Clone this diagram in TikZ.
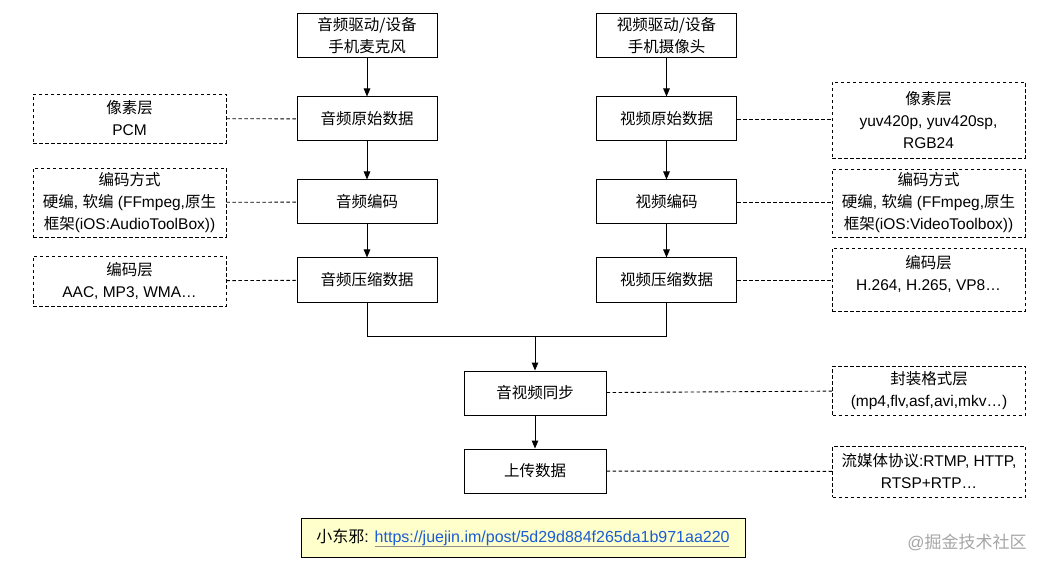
\documentclass[tikz,border=0pt]{standalone}
\usepackage{fontspec}
\setmainfont{Liberation Sans}
\newfontfamily\cjk{Noto Sans CJK SC}
\usetikzlibrary{arrows.meta}
\newcommand\zh[1]{{\cjk #1}}
\newcommand\fsz{\fontsize{15.5}{22}\selectfont}
\definecolor{notefill}{RGB}{255,255,204}
\definecolor{linkblue}{RGB}{26,92,212}
\tikzset{
  solidbox/.style={draw=black, line width=1pt, minimum width=140pt, minimum height=44pt, align=center, font=\fsz, inner sep=0pt},
  dbox/.style={draw=black, line width=0.9pt, dash pattern=on 3.5pt off 2.5pt, minimum width=193pt, align=center, font=\fsz, inner sep=0pt},
  arr/.style={draw=black, line width=1pt, -{Triangle[length=8pt,width=6.5pt]}},
  plain/.style={draw=black, line width=1pt},
  dline/.style={draw=black, line width=0.9pt, dash pattern=on 3.5pt off 2.5pt},
}
\begin{document}
\begin{tikzpicture}[x=1pt,y=-1pt]
\useasboundingbox (0,0) rectangle (1049,569);
% audio column
\node[solidbox] (a1) at (367,36) {\zh{音频驱动/设备}\\\zh{手机麦克风}};
\node[solidbox] (a2) at (367,119) {\zh{音频原始数据}};
\node[solidbox] (a3) at (367,202) {\zh{音频编码}};
\node[solidbox] (a4) at (367,280) {\zh{音频压缩数据}};
% video column
\node[solidbox] (v1) at (666.5,36) {\zh{视频驱动/设备}\\\zh{手机摄像头}};
\node[solidbox] (v2) at (666.5,119) {\zh{视频原始数据}};
\node[solidbox] (v3) at (666.5,202) {\zh{视频编码}};
\node[solidbox] (v4) at (666.5,280) {\zh{视频压缩数据}};
% merged
\node[solidbox, minimum width=142pt] (sync) at (535,393) {\zh{音视频同步}};
\node[solidbox, minimum width=142pt] (up) at (535,471) {\zh{上传数据}};
% left notes
\node[dbox, minimum height=49pt] (l1) at (129.5,118.5) {\zh{像素层}\\PCM};
\node[dbox, minimum height=69pt] (l2) at (129.5,202.5) {\zh{编码方式}\\\zh{硬编}, \zh{软编} (FFmpeg,\zh{原生}\\\zh{框架}(iOS:AudioToolBox))};
\node[dbox, minimum height=50pt] (l3) at (129.5,281) {\zh{编码层}\\AAC, MP3, WMA…};
% right notes
\node[dbox, minimum height=76pt] (r1) at (928.5,120) {\zh{像素层}\\yuv420p, yuv420sp,\\RGB24};
\node[dbox, minimum height=68pt] (r2) at (928.5,203) {\zh{编码方式}\\\zh{硬编}, \zh{软编} (FFmpeg,\zh{原生}\\\zh{框架}(iOS:VideoToolbox))};
\node[dbox, minimum height=63pt] (r3) at (928.5,279.5) {};
\node[align=center, font=\fsz, inner sep=0pt] (r3t) at (928.5,274) {\zh{编码层}\\H.264, H.265, VP8…};
\node[dbox, minimum height=49pt] (r4) at (929,390.5) {\zh{封装格式层}\\(mp4,flv,asf,avi,mkv…)};
\node[dbox, minimum height=51pt] (r5) at (929,471.5) {\zh{流媒体协议}:RTMP, HTTP,\\RTSP+RTP…};
% arrows
\draw[arr] (a1) -- (a2);
\draw[arr] (a2) -- (a3);
\draw[arr] (a3) -- (a4);
\draw[arr] (v1) -- (v2);
\draw[arr] (v2) -- (v3);
\draw[arr] (v3) -- (v4);
\coordinate (m) at (535,336);
\draw[plain] (a4.south) |- (m);
\draw[plain] (v4.south) |- (m);
\draw[arr] (m) -- (sync);
\draw[arr] (sync) -- (up);
% dashed connectors
\draw[dline] (l1) -- (a2);
\draw[dline] (l2) -- (a3);
\draw[dline] (l3) -- (a4);
\draw[dline] (v2) -- (r1.west |- v2);
\draw[dline] (v3) -- (r2.west |- v3);
\draw[dline] (v4) -- (r3.west |- v4);
\draw[dline] (sync) -- (r4);
\draw[dline] (up) -- (r5);
% note
\node[draw=black, line width=1pt, fill=notefill, minimum width=444pt, minimum height=39pt, inner sep=0pt, font=\fontsize{16}{20}\selectfont] (note) at (523,537.5) {\zh{小东邪}: \textcolor{linkblue}{https://juejin.im/post/5d29d884f265da1b971aa220}};
\coordinate (ulA) at (375,546.5);
\coordinate (ulB) at (729,546.5);
\draw[black!45, line width=1pt] (ulA) -- (ulB);
% watermark
\node[text=black!35, font=\fontsize{17}{20}\selectfont, inner sep=0pt] (wm) at (967,542) {@\zh{掘金技术社区}};
\end{tikzpicture}
\end{document}
